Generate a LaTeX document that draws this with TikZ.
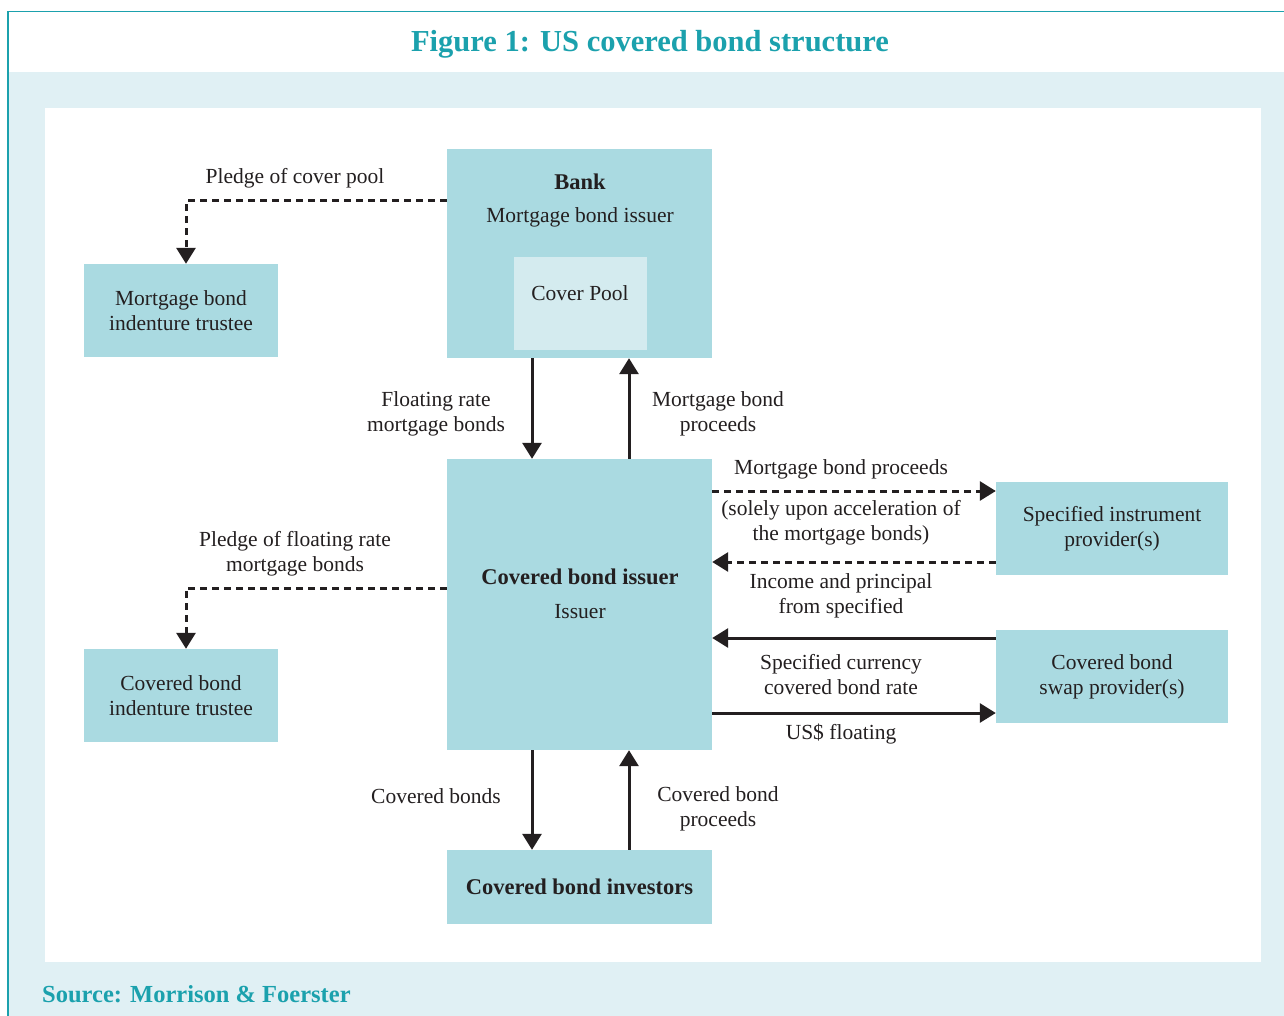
\documentclass[tikz,border=0pt]{standalone}
\usepackage{fontspec}
\setmainfont{Liberation Serif}
\usetikzlibrary{arrows.meta,positioning}
\definecolor{teal1}{HTML}{1BA1AD}
\definecolor{boxfill}{HTML}{AADAE1}
\definecolor{poolfill}{HTML}{D4EBEF}
\definecolor{bgblue}{HTML}{E0F0F4}
\definecolor{ink}{HTML}{231F20}
\tikzset{
  box/.style={fill=boxfill, draw=none, inner sep=0pt, text=ink, align=center,
    font=\fontsize{21.5pt}{25pt}\selectfont},
  lbl/.style={text=ink, align=center, inner sep=0pt, font=\fontsize{21.5pt}{25pt}\selectfont},
  bfont/.style={font=\fontsize{22.5pt}{25pt}\selectfont\bfseries},
  arr/.style={draw=ink, line width=3pt, -{Triangle[width=19pt,length=16pt]}},
  darr/.style={arr, dash pattern=on 7pt off 5pt},
}
\begin{document}
\begin{tikzpicture}[x=1pt,y=-1pt]
\useasboundingbox (0,0) rectangle (1284,1016);
% background
\fill[bgblue] (8,72) rectangle (1284,1016);
\fill[white] (8,12) rectangle (1284,72);
\fill[white] (45,108) rectangle (1261,962);
\draw[teal1, line width=1.5pt] (8,1016) -- (8,11.5) -- (1284,11.5);
% title
\node[text=teal1, font=\fontsize{30.5pt}{32pt}\selectfont\bfseries, inner sep=0pt] (title) at (650,44.5) {Figure 1: US covered bond structure};
\node[text=teal1, font=\fontsize{24.5pt}{26pt}\selectfont\bfseries, inner sep=0pt, anchor=west] (src) at (42,994) {Source: Morrison \& Foerster};
% boxes
\node[box, minimum width=265pt, minimum height=209pt] (bank) at (579.5,253.5) {};
\node[box, fill=poolfill, minimum width=133pt, minimum height=93pt] (pool) at (580.5,303.5) {};
\node[lbl, bfont] (bankt) at (580,182) {Bank};
\node[lbl] (banks) at (580,217) {Mortgage bond issuer};
\node[lbl] (poolt) at (580,293) {Cover Pool};
\node[box, minimum width=194pt, minimum height=93pt] (mbt) at (181,310.5) {Mortgage bond\\indenture trustee};
\node[box, minimum width=265pt, minimum height=291pt] (cbi) at (579.5,604.5) {};
\node[lbl, bfont] (cbit) at (580,577) {Covered bond issuer};
\node[lbl] (cbis) at (580,612) {Issuer};
\node[box, minimum width=194pt, minimum height=93pt] (cbt) at (181,695.5) {Covered bond\\indenture trustee};
\node[box, minimum width=232pt, minimum height=93pt] (sip) at (1112,528.5) {Specified instrument\\provider(s)};
\node[box, minimum width=232pt, minimum height=93pt] (swap) at (1112,676.5) {Covered bond\\swap provider(s)};
\node[box, bfont, minimum width=265pt, minimum height=74pt] (inv) at (579.5,887) {Covered bond investors};
% connectors
\coordinate (p1) at (186,201);
\draw[darr] (bank.west |- p1) -- (p1) -- (p1 |- mbt.north);
\coordinate (p2) at (186,588);
\draw[darr] (cbi.west |- p2) -- (p2) -- (p2 |- cbt.north);
\coordinate (v1) at (532,0);
\coordinate (v2) at (629,0);
\draw[arr] (bank.south -| v1) -- (cbi.north -| v1);
\draw[arr] (cbi.north -| v2) -- (bank.south -| v2);
\draw[arr] (cbi.south -| v1) -- (inv.north -| v1);
\draw[arr] (inv.north -| v2) -- (cbi.south -| v2);
\coordinate (h1) at (0,491);
\coordinate (h2) at (0,562);
\coordinate (h3) at (0,638);
\coordinate (h4) at (0,713);
\draw[darr] (cbi.east |- h1) -- (sip.west |- h1);
\draw[darr] (sip.west |- h2) -- (cbi.east |- h2);
\draw[arr] (swap.west |- h3) -- (cbi.east |- h3);
\draw[arr] (cbi.east |- h4) -- (swap.west |- h4);
% labels
\node[lbl] (l1) at (295,178) {Pledge of cover pool};
\node[lbl] (l2) at (295,554) {Pledge of floating rate\\mortgage bonds};
\node[lbl] (l3) at (436,414) {Floating rate\\mortgage bonds};
\node[lbl] (l4) at (718,414) {Mortgage bond\\proceeds};
\node[lbl] (l5) at (841,469) {Mortgage bond proceeds};
\node[lbl] (l6) at (841,523) {(solely upon acceleration of\\the mortgage bonds)};
\node[lbl] (l7) at (841,596) {Income and principal\\from specified};
\node[lbl] (l8) at (841,675) {Specified currency\\covered bond rate};
\node[lbl] (l9) at (841,734) {US\$ floating};
\node[lbl] (l10) at (436,796) {Covered bonds};
\node[lbl] (l11) at (718,809) {Covered bond\\proceeds};
\end{tikzpicture}
\end{document}
